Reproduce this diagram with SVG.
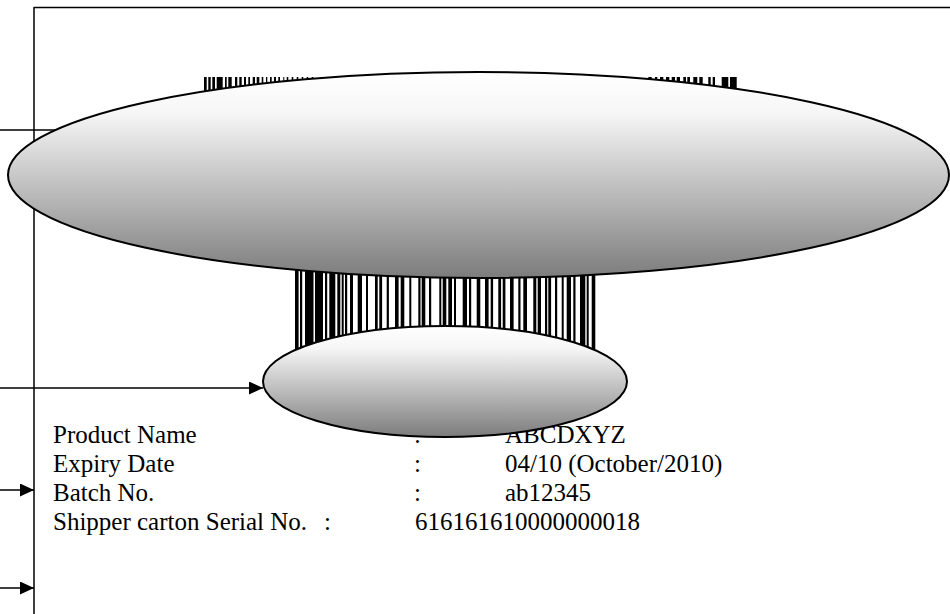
<svg xmlns="http://www.w3.org/2000/svg" width="950" height="614" viewBox="0 0 950 614">
  <style>
    .ln { stroke: #000; stroke-width: 1.5; fill: none; }
    .bar { fill: #000; }
    .ell { stroke: #000; stroke-width: 2; }
    .t { font-family: "Liberation Serif", "Times New Roman", serif; font-size: 25px; fill: #000; }
  </style>
  <defs>
    <linearGradient id="gshade" x1="0" y1="0" x2="0" y2="1">
      <stop offset="0" stop-color="#ffffff"/>
      <stop offset="0.2" stop-color="#f6f6f6"/>
      <stop offset="1" stop-color="#7c7c7c"/>
    </linearGradient>
    <marker id="arrow" markerUnits="userSpaceOnUse" markerWidth="16" markerHeight="14" refX="14" refY="6.5" orient="auto">
      <path d="M0,0 L14,6.5 L0,13 z" fill="#000"/>
    </marker>
  </defs>

  <g id="frame">
    <path class="ln" d="M34,7.5 H950 M34,7 V614"/>
  </g>

  <g id="connectors">
    <path class="ln" d="M0,130 H62"/>
    <path class="ln" d="M0,388 H263" marker-end="url(#arrow)"/>
    <path class="ln" d="M0,490 H34" marker-end="url(#arrow)"/>
    <path class="ln" d="M0,588 H34" marker-end="url(#arrow)"/>
  </g>

  <g id="barcode-top">
    <rect class="bar" x="204" y="77" width="2.7" height="60"/>
    <rect class="bar" x="208.3" y="77" width="2.4" height="60"/>
    <rect class="bar" x="212.3" y="77" width="2.7" height="60"/>
    <rect class="bar" x="216.7" y="77" width="6" height="60"/>
    <rect class="bar" x="225" y="77" width="1.7" height="60"/>
    <rect class="bar" x="228.3" y="77" width="3.4" height="60"/>
    <rect class="bar" x="235" y="77" width="2.3" height="60"/>
    <rect class="bar" x="239.3" y="77" width="2.4" height="60"/>
    <rect class="bar" x="244" y="77" width="2" height="60"/>
    <rect class="bar" x="248.3" y="77" width="1.7" height="60"/>
    <rect class="bar" x="252.7" y="77" width="2.3" height="60"/>
    <rect class="bar" x="256.7" y="77" width="2.6" height="60"/>
    <rect class="bar" x="261.7" y="77" width="1.6" height="60"/>
    <rect class="bar" x="266" y="77" width="1.3" height="60"/>
    <rect class="bar" x="270" y="77" width="1.7" height="60"/>
    <rect class="bar" x="274" y="77" width="2" height="60"/>
    <rect class="bar" x="278.3" y="77" width="1.7" height="60"/>
    <rect class="bar" x="283.3" y="77" width="1" height="60"/>
    <rect class="bar" x="286.7" y="77" width="1.6" height="60"/>
    <rect class="bar" x="291.7" y="77" width="1.6" height="60"/>
    <rect class="bar" x="296.7" y="77" width="1.6" height="60"/>
    <rect class="bar" x="301.7" y="77" width="1.6" height="60"/>
    <rect class="bar" x="306.7" y="77" width="1.6" height="60"/>
    <rect class="bar" x="311.7" y="77" width="1.6" height="60"/>
    <rect class="bar" x="648.3" y="77" width="3.4" height="60"/>
    <rect class="bar" x="655" y="77" width="2.3" height="60"/>
    <rect class="bar" x="660" y="77" width="3.3" height="60"/>
    <rect class="bar" x="666" y="77" width="3.3" height="60"/>
    <rect class="bar" x="671.7" y="77" width="3.3" height="60"/>
    <rect class="bar" x="676.7" y="77" width="3.3" height="60"/>
    <rect class="bar" x="683.3" y="77" width="2.7" height="60"/>
    <rect class="bar" x="687.3" y="77" width="2.7" height="60"/>
    <rect class="bar" x="693.3" y="77" width="4" height="60"/>
    <rect class="bar" x="699.3" y="77" width="3.4" height="60"/>
    <rect class="bar" x="708.3" y="77" width="2.4" height="60"/>
    <rect class="bar" x="712.7" y="77" width="2.3" height="60"/>
    <rect class="bar" x="721.7" y="77" width="6.6" height="60"/>
    <rect class="bar" x="730" y="77" width="6.7" height="60"/>
  </g>

  <g id="barcode-bottom">
    <rect class="bar" x="295" y="255" width="3.6" height="115"/>
    <rect class="bar" x="300" y="255" width="2.2" height="115"/>
    <rect class="bar" x="305" y="255" width="8.5" height="115"/>
    <rect class="bar" x="315" y="255" width="8" height="115"/>
    <rect class="bar" x="325" y="255" width="2.2" height="115"/>
    <rect class="bar" x="329.3" y="255" width="6" height="115"/>
    <rect class="bar" x="337.3" y="255" width="3" height="115"/>
    <rect class="bar" x="341.7" y="255" width="2" height="115"/>
    <rect class="bar" x="345" y="255" width="2.2" height="115"/>
    <rect class="bar" x="350" y="255" width="3" height="115"/>
    <rect class="bar" x="357.7" y="255" width="4.3" height="115"/>
    <rect class="bar" x="366" y="255" width="2" height="115"/>
    <rect class="bar" x="375" y="255" width="2.7" height="115"/>
    <rect class="bar" x="379.3" y="255" width="2.8" height="115"/>
    <rect class="bar" x="386.7" y="255" width="2.2" height="115"/>
    <rect class="bar" x="395" y="255" width="3.6" height="115"/>
    <rect class="bar" x="400.7" y="255" width="3.6" height="115"/>
    <rect class="bar" x="409.3" y="255" width="2" height="115"/>
    <rect class="bar" x="418.3" y="255" width="2.2" height="115"/>
    <rect class="bar" x="421.7" y="255" width="3.6" height="115"/>
    <rect class="bar" x="429" y="255" width="2.2" height="115"/>
    <rect class="bar" x="439.3" y="255" width="2" height="115"/>
    <rect class="bar" x="442.7" y="255" width="3.6" height="115"/>
    <rect class="bar" x="448.3" y="255" width="3.7" height="115"/>
    <rect class="bar" x="454" y="255" width="2" height="115"/>
    <rect class="bar" x="462.7" y="255" width="4.3" height="115"/>
    <rect class="bar" x="469" y="255" width="2.2" height="115"/>
    <rect class="bar" x="476.7" y="255" width="3.6" height="115"/>
    <rect class="bar" x="485" y="255" width="3.6" height="115"/>
    <rect class="bar" x="490.7" y="255" width="2.4" height="115"/>
    <rect class="bar" x="498.3" y="255" width="2.8" height="115"/>
    <rect class="bar" x="502.7" y="255" width="2.7" height="115"/>
    <rect class="bar" x="510" y="255" width="3.6" height="115"/>
    <rect class="bar" x="518.3" y="255" width="2.2" height="115"/>
    <rect class="bar" x="523.3" y="255" width="3.7" height="115"/>
    <rect class="bar" x="533.3" y="255" width="3" height="115"/>
    <rect class="bar" x="537.7" y="255" width="3.3" height="115"/>
    <rect class="bar" x="545" y="255" width="2.2" height="115"/>
    <rect class="bar" x="548.3" y="255" width="2.8" height="115"/>
    <rect class="bar" x="555" y="255" width="2.2" height="115"/>
    <rect class="bar" x="561.7" y="255" width="2" height="115"/>
    <rect class="bar" x="566.7" y="255" width="4.3" height="115"/>
    <rect class="bar" x="573.3" y="255" width="2.2" height="115"/>
    <rect class="bar" x="580" y="255" width="5.3" height="115"/>
    <rect class="bar" x="586.7" y="255" width="2" height="115"/>
    <rect class="bar" x="591.7" y="255" width="3.6" height="115"/>
  </g>

  <g id="label-text">
    <text class="t" x="53" y="443">Product Name</text>
    <text class="t" x="53" y="472">Expiry Date</text>
    <text class="t" x="53" y="501">Batch No.</text>
    <text class="t" x="53" y="530">Shipper carton Serial No.</text>
    <text class="t" x="414" y="443">:</text>
    <text class="t" x="414" y="472">:</text>
    <text class="t" x="414" y="501">:</text>
    <text class="t" x="324" y="530">:</text>
    <text class="t" x="505" y="443">ABCDXYZ</text>
    <text class="t" x="505" y="472">04/10 (October/2010)</text>
    <text class="t" x="505" y="501">ab12345</text>
    <text class="t" x="415" y="530">616161610000000018</text>
  </g>

  <g id="ellipse-large">
    <ellipse class="ell" cx="478.5" cy="175" rx="470.5" ry="103" fill="url(#gshade)"/>
  </g>

  <g id="ellipse-small">
    <ellipse class="ell" cx="445" cy="381.5" rx="182" ry="55.5" fill="url(#gshade)"/>
  </g>
</svg>
